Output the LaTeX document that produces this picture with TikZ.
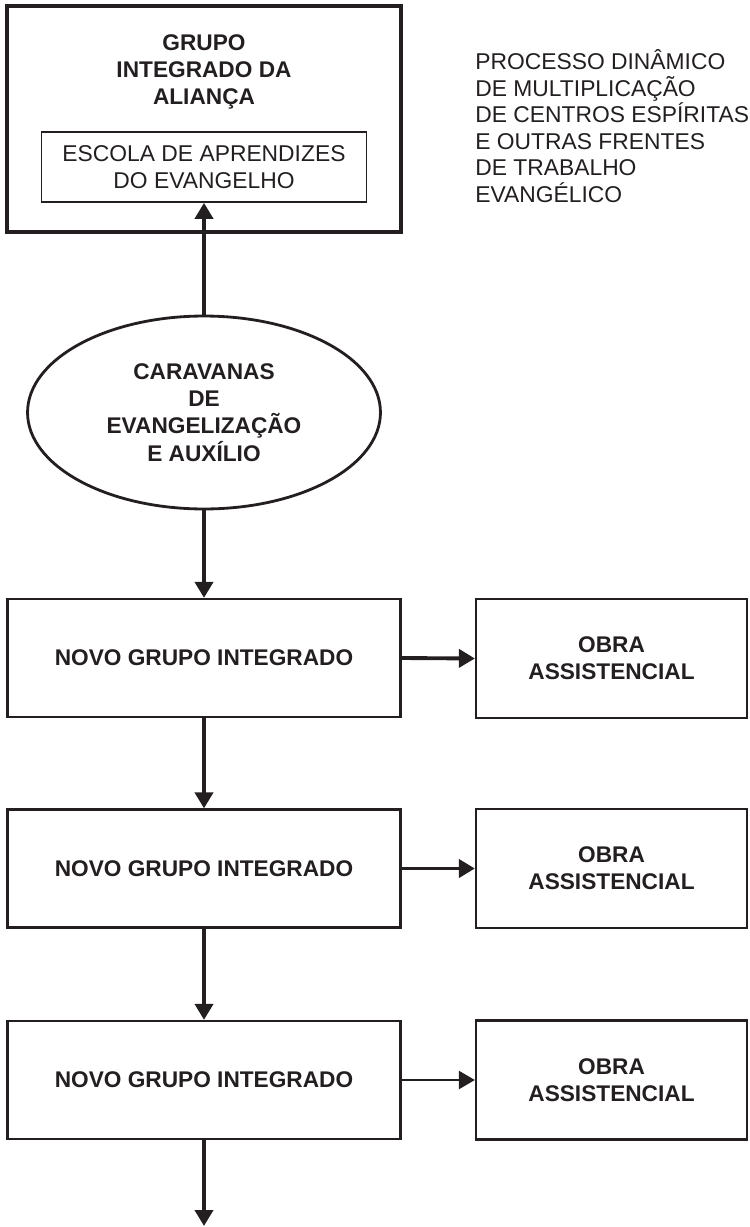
\documentclass[tikz,border=0pt]{standalone}
\usepackage{fontspec}
\setmainfont{Liberation Sans}
\usetikzlibrary{arrows.meta,shapes.geometric}
\definecolor{ink}{HTML}{231F20}

\begin{document}
\begin{tikzpicture}[x=0.02cm, y=-0.02cm, color=ink,
    font=\fontsize{13}{15.1}\selectfont,
    hd/.style={font=\fontsize{12.9}{15.5}\selectfont\bfseries,align=center},
    novo/.style={draw,line width=1.3pt,minimum width=7.86cm,minimum height=2.36cm,hd},
    obra/.style={draw,line width=1.3pt,minimum width=5.42cm,minimum height=2.38cm,hd},
    flow/.style={-{Triangle[length=0.32cm,width=0.36cm]},line width=2.2pt}]
  \useasboundingbox (0,0) rectangle (750,1227);

  % grupo da alianca
  \node[draw,line width=1.8pt,minimum width=7.88cm,minimum height=4.52cm] (gia) at (204,119) {};
  \node[hd] (giatit) at (204,72) {GRUPO\\INTEGRADO DA\\ALIANÇA};
  \node[draw,line width=1pt,minimum width=6.5cm,minimum height=1.4cm,align=center] (escola) at (204,167) {ESCOLA DE APRENDIZES\\DO EVANGELHO};
  \node[anchor=west,align=left,inner sep=0pt] (proc) at (475,126) {PROCESSO DINÂMICO\\DE MULTIPLICAÇÃO\\DE CENTROS ESPÍRITAS\\E OUTRAS FRENTES\\DE TRABALHO\\EVANGÉLICO};

  % caravanas
  \node[ellipse,draw,line width=1.6pt,minimum width=7.06cm,minimum height=3.86cm,inner sep=0pt,hd] (carav) at (204,412.5) {CARAVANAS\\DE\\EVANGELIZAÇÃO\\E AUXÍLIO};

  % novos grupos e obras
  \node[novo] (novo1) at (204,658) {NOVO GRUPO INTEGRADO};
  \node[novo] (novo2) at (204,868.5) {NOVO GRUPO INTEGRADO};
  \node[novo] (novo3) at (204,1080) {NOVO GRUPO INTEGRADO};
  \node[obra] (obra1) at (611.5,658.5) {OBRA\\ASSISTENCIAL};
  \node[obra] (obra2) at (611.5,868.5) {OBRA\\ASSISTENCIAL};
  \node[obra] (obra3) at (611.5,1080) {OBRA\\ASSISTENCIAL};
  \coordinate (fim) at (204,1226);

  \draw[flow] (carav.north) -- (escola.south);
  \draw[flow] (carav.south) -- (novo1.north);
  \draw[flow] (novo1.south) -- (novo2.north);
  \draw[flow] (novo2.south) -- (novo3.north);
  \draw[flow] (novo3.south) -- (fim);
  \draw[flow] (novo1.east) -- (obra1.west);
  \draw[flow] (novo2.east) -- (obra2.west);
  \draw[flow,line width=1.3pt] (novo3.east) -- (obra3.west);
\end{tikzpicture}
\end{document}
